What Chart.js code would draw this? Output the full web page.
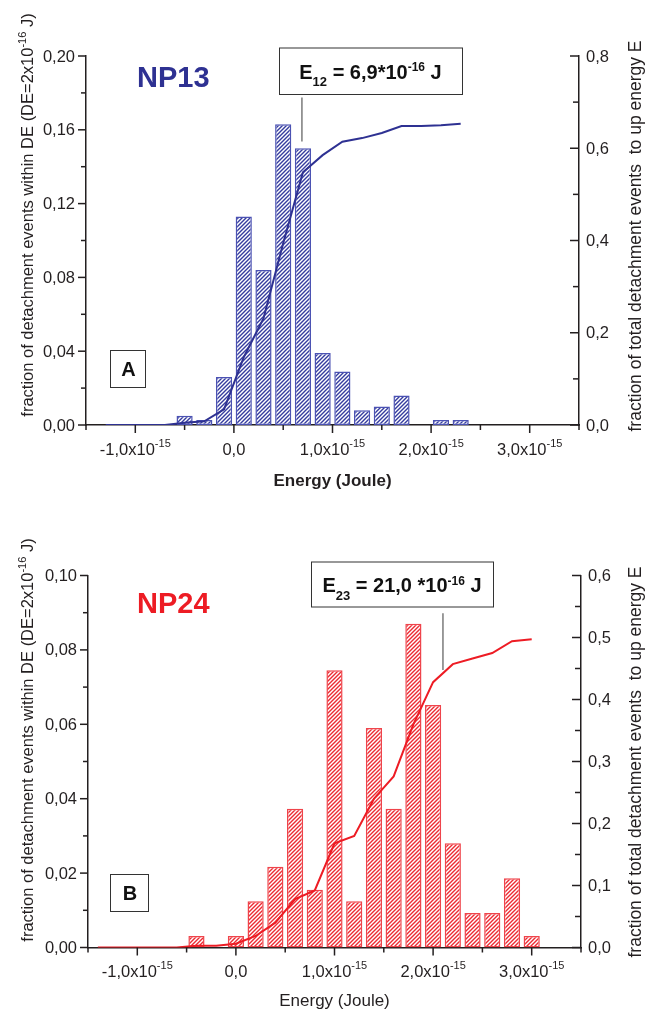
<!DOCTYPE html>
<html>
<head>
<meta charset="utf-8">
<script src="https://cdn.jsdelivr.net/npm/chart.js@4.4.1/dist/chart.umd.min.js"></script>
<style>
  html, body { margin: 0; padding: 0; background: #fff; }
  #wrap { position: relative; width: 648px; height: 1010px; overflow: hidden; }
  canvas { position: absolute; left: 0; }
  #chartA { top: 0; }
  #chartB { top: 505px; }
</style>
</head>
<body>
<div id="wrap">
  <canvas id="chartA" width="648" height="505"></canvas>
  <canvas id="chartB" width="648" height="505"></canvas>
</div>
<script>
// energies are in units of 1e-15 J, bin width DE = 2e-16 J
const xMajorTicks = [-1, 0, 1, 2, 3];
const xMinorTicks = [-1.5, -0.5, 0.5, 1.5, 2.5, 3.5];
const xMin = -1.5, xMax = 3.5;

// NP13 (panel A)
const binsA = [-0.5, -0.3, -0.1, 0.1, 0.3, 0.5, 0.7, 0.9, 1.1, 1.3, 1.5, 1.7, 2.1, 2.3];
const fractionA = [0.005, 0.0027, 0.026, 0.113, 0.084, 0.163, 0.150, 0.039, 0.029, 0.008, 0.010, 0.016, 0.0027, 0.0027];
const cumEnergyA = [-1.3, -1.1, -0.9, -0.7, -0.5, -0.3, -0.1, 0.1, 0.3, 0.5, 0.7, 0.9, 1.1, 1.3, 1.5, 1.7, 1.9, 2.1, 2.3];
const cumFractionA = [0, 0, 0, 0, 0.005, 0.008, 0.034, 0.147, 0.231, 0.394, 0.548, 0.585, 0.614, 0.622, 0.633, 0.648, 0.648, 0.650, 0.653];
const leftTicksA = [0, 0.04, 0.08, 0.12, 0.16, 0.20];
const rightTicksA = [0, 0.2, 0.4, 0.6, 0.8];
const E12 = 0.69;

// NP24 (panel B)
const binsB = [-0.4, 0.0, 0.2, 0.4, 0.6, 0.8, 1.0, 1.2, 1.4, 1.6, 1.8, 2.0, 2.2, 2.4, 2.6, 2.8, 3.0];
const fractionB = [0.0031, 0.0031, 0.0124, 0.0217, 0.0373, 0.0155, 0.0745, 0.0124, 0.0590, 0.0373, 0.0870, 0.0652, 0.0280, 0.0093, 0.0093, 0.0186, 0.0031];
const cumEnergyB = [-1.4, -1.2, -1.0, -0.8, -0.6, -0.4, -0.2, 0.0, 0.2, 0.4, 0.6, 0.8, 1.0, 1.2, 1.4, 1.6, 1.8, 2.0, 2.2, 2.4, 2.6, 2.8, 3.0];
const cumFractionB = [0, 0, 0, 0, 0, 0.003, 0.003, 0.006, 0.0186, 0.040, 0.078, 0.092, 0.168, 0.180, 0.240, 0.276, 0.360, 0.428, 0.457, 0.466, 0.475, 0.494, 0.497];
const leftTicksB = [0, 0.02, 0.04, 0.06, 0.08, 0.10];
const rightTicksB = [0, 0.1, 0.2, 0.3, 0.4, 0.5, 0.6];
const E23 = 2.10;

const AXIS = '#231f20';
const FONT = '"Liberation Sans", Arial, Helvetica, sans-serif';

function hatch(color) {
  const c = document.createElement('canvas');
  c.width = c.height = 4;
  const g = c.getContext('2d');
  g.fillStyle = '#fff';
  g.fillRect(0, 0, 4, 4);
  g.strokeStyle = color;
  g.lineWidth = 1.4;
  g.beginPath();
  g.moveTo(0, 4); g.lineTo(4, 0);
  g.moveTo(-1, 1); g.lineTo(1, -1);
  g.moveTo(3, 5); g.lineTo(5, 3);
  g.stroke();
  return g.createPattern(c, 'repeat');
}

function seg(ctx, x1, y1, x2, y2) {
  ctx.beginPath();
  ctx.moveTo(x1, y1);
  ctx.lineTo(x2, y2);
  ctx.stroke();
}

// parts: [text, size, dy, bold]
function rich(ctx, parts, x, y, align) {
  let w = 0;
  const widths = parts.map(p => {
    ctx.font = (p[3] ? 'bold ' : '') + p[1] + 'px ' + FONT;
    const pw = ctx.measureText(p[0]).width;
    w += pw;
    return pw;
  });
  let cx = align === 'center' ? x - w / 2 : align === 'right' ? x - w : x;
  ctx.textAlign = 'left';
  ctx.textBaseline = 'alphabetic';
  parts.forEach((p, i) => {
    ctx.font = (p[3] ? 'bold ' : '') + p[1] + 'px ' + FONT;
    ctx.fillText(p[0], cx, y + p[2]);
    cx += widths[i];
  });
}

const mids = arr => arr.slice(1).map((v, i) => (v + arr[i]) / 2);

function panelPlugin(o) {
  return {
    id: 'panel' + o.name,
    afterDraw(chart) {
      const { ctx, chartArea: a } = chart;
      const { x, y, y1 } = chart.scales;
      ctx.save();
      ctx.strokeStyle = AXIS;
      ctx.fillStyle = AXIS;
      ctx.lineWidth = 1.5;

      // tick marks
      xMajorTicks.forEach(v => { const p = x.getPixelForValue(v); seg(ctx, p, a.bottom, p, a.bottom + 8); });
      xMinorTicks.forEach(v => { const p = x.getPixelForValue(v); seg(ctx, p, a.bottom, p, a.bottom + 5); });
      o.leftTicks.forEach(v => { const p = y.getPixelForValue(v); seg(ctx, a.left - 8, p, a.left, p); });
      mids(o.leftTicks).forEach(v => { const p = y.getPixelForValue(v); seg(ctx, a.left - 5, p, a.left, p); });
      o.rightTicks.forEach(v => { const p = y1.getPixelForValue(v); seg(ctx, a.right - 9, p, a.right, p); });
      mids(o.rightTicks).forEach(v => { const p = y1.getPixelForValue(v); seg(ctx, a.right - 6, p, a.right, p); });

      // tick labels
      ctx.font = '16.5px ' + FONT;
      ctx.textBaseline = 'middle';
      ctx.textAlign = 'right';
      o.leftTicks.forEach(v => ctx.fillText(v.toFixed(2).replace('.', ','), a.left - 11, y.getPixelForValue(v) + 1));
      ctx.textAlign = 'left';
      o.rightTicks.forEach(v => ctx.fillText(v.toFixed(1).replace('.', ','), a.right + 7, y1.getPixelForValue(v) + 1));
      xMajorTicks.forEach(v => {
        const p = x.getPixelForValue(v);
        const txt = v.toFixed(1).replace('.', ',');
        if (v === 0) rich(ctx, [[txt, 16.5, 0]], p, a.bottom + 29.5, 'center');
        else rich(ctx, [[txt + 'x10', 16.5, 0], ['-15', 11, -8]], p, a.bottom + 29.5, 'center');
      });

      // axis titles
      rich(ctx, [['Energy (Joule)', 17, 0, o.xTitleBold]], (a.left + a.right) / 2, o.xTitleY, 'center');
      ctx.save();
      ctx.translate(33, o.leftTitleY);
      ctx.rotate(-Math.PI / 2);
      rich(ctx, [['fraction of detachment events within DE (DE=2x10', 16.5, 0], ['-16', 11, -7.5], [' J)', 16.5, 0]], 0, 0, 'center');
      ctx.restore();
      ctx.save();
      ctx.translate(641, o.rightTitleY);
      ctx.rotate(-Math.PI / 2);
      rich(ctx, [['fraction of total detachment events  to up energy E', 17.5, 0]], 0, 0, 'center');
      ctx.restore();

      // sample name
      ctx.fillStyle = o.lineColor;
      ctx.font = 'bold 29px ' + FONT;
      ctx.textAlign = 'left';
      ctx.textBaseline = 'alphabetic';
      ctx.fillText(o.name, 137, o.nameY);

      // energy box and leader line
      const bx = o.box;
      ctx.fillStyle = '#fff';
      ctx.fillRect(bx[0], bx[1], bx[2], bx[3]);
      ctx.strokeStyle = '#333';
      ctx.lineWidth = 1;
      ctx.strokeRect(bx[0] + 0.5, bx[1] + 0.5, bx[2], bx[3]);
      ctx.fillStyle = '#111';
      rich(ctx, [['E', 20, 0, true], [o.eSub, 13, 7.4, true], [o.eText, 20, 0, true], ['-16', 12, -7.6, true], [' J', 20, 0, true]],
        bx[0] + bx[2] / 2, bx[1] + bx[3] / 2 + 8.3, 'center');
      ctx.strokeStyle = '#666';
      ctx.lineWidth = 1.3;
      const lx = x.getPixelForValue(o.eValue);
      seg(ctx, lx, o.leader[0], lx, o.leader[1]);

      // panel letter
      const lb = o.letterBox;
      ctx.strokeStyle = '#333';
      ctx.lineWidth = 1;
      ctx.strokeRect(lb[0] + 0.5, lb[1] + 0.5, lb[2], lb[3]);
      ctx.fillStyle = '#111';
      rich(ctx, [[o.letter, 20, 0, true]], lb[0] + lb[2] / 2 + 1, lb[1] + lb[3] / 2 + 7.5, 'center');
      ctx.restore();
    }
  };
}

function makeChart(id, o) {
  return new Chart(document.getElementById(id), {
    type: 'bar',
    data: {
      datasets: [
        {
          type: 'line',
          data: o.cumX.map((v, i) => ({ x: v, y: o.cumY[i] })),
          yAxisID: 'y1',
          borderColor: o.lineColor,
          borderWidth: 2,
          pointRadius: 0,
          tension: 0,
          order: 0
        },
        {
          type: 'bar',
          data: o.binX.map((v, i) => ({ x: v, y: o.binY[i] })),
          yAxisID: 'y',
          backgroundColor: hatch(o.hatchColor),
          borderColor: o.barBorder,
          borderWidth: 1.5,
          borderSkipped: false,
          categoryPercentage: 1,
          barPercentage: 0.82,
          order: 1
        }
      ]
    },
    options: {
      responsive: false,
      animation: false,
      events: [],
      layout: { padding: { top: o.top, left: 0, right: 0, bottom: 0 } },
      plugins: { legend: { display: false }, tooltip: { enabled: false } },
      scales: {
        x: {
          type: 'linear', min: xMin, max: xMax, offset: false,
          grid: { display: false },
          border: { display: true, color: AXIS, width: 1.5 },
          ticks: { display: false },
          afterBuildTicks: s => { s.ticks = xMajorTicks.map(v => ({ value: v })); },
          afterFit: s => { s.height = o.xHeight; }
        },
        y: {
          position: 'left', min: 0, max: o.leftTicks[o.leftTicks.length - 1],
          grid: { display: false },
          border: { display: true, color: AXIS, width: 1.5 },
          ticks: { display: false },
          afterBuildTicks: s => { s.ticks = o.leftTicks.map(v => ({ value: v })); },
          afterFit: s => { s.width = o.leftW; }
        },
        y1: {
          position: 'right', min: 0, max: o.rightTicks[o.rightTicks.length - 1],
          grid: { display: false },
          border: { display: true, color: AXIS, width: 1.5 },
          ticks: { display: false },
          afterBuildTicks: s => { s.ticks = o.rightTicks.map(v => ({ value: v })); },
          afterFit: s => { s.width = o.rightW; }
        }
      }
    },
    plugins: [panelPlugin(o)]
  });
}

makeChart('chartA', {
  name: 'NP13', letter: 'A',
  binX: binsA, binY: fractionA, cumX: cumEnergyA, cumY: cumFractionA,
  leftTicks: leftTicksA, rightTicks: rightTicksA,
  lineColor: '#2e3192', hatchColor: '#353c9e', barBorder: '#4b52b3',
  top: 56, leftW: 86, rightW: 69, xHeight: 80,
  xTitleBold: true, xTitleY: 485.7, leftTitleY: 215, rightTitleY: 236, nameY: 86.5,
  box: [279, 47.5, 183, 46.5], eSub: '12', eText: ' = 6,9*10', eValue: E12, leader: [97.5, 141.5],
  letterBox: [110, 350, 35, 37]
});

makeChart('chartB', {
  name: 'NP24', letter: 'B',
  binX: binsB, binY: fractionB, cumX: cumEnergyB, cumY: cumFractionB,
  leftTicks: leftTicksB, rightTicks: rightTicksB,
  lineColor: '#ed1c24', hatchColor: '#ec2a32', barBorder: '#ef444b',
  top: 70.5, leftW: 88, rightW: 67, xHeight: 62.5,
  xTitleBold: false, xTitleY: 500.5, leftTitleY: 235, rightTitleY: 257, nameY: 108.3,
  box: [311, 56.5, 182, 45], eSub: '23', eText: ' = 21,0 *10', eValue: E23, leader: [108.3, 165],
  letterBox: [110, 369, 38, 37]
});
</script>
</body>
</html>
